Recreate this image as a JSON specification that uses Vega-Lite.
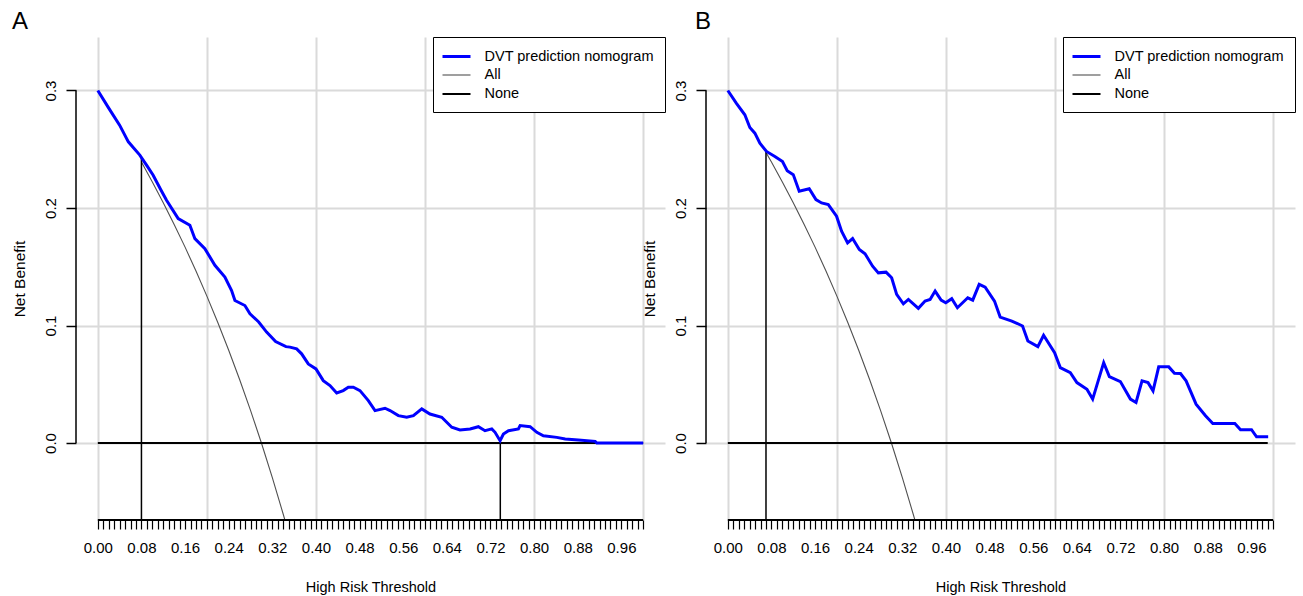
{
  "$schema": "https://vega.github.io/schema/vega-lite/v6.json",
  "background": "white",
  "padding": {"left": 12, "top": 9, "right": 5, "bottom": 2},
  "config": {
    "font": "Liberation Sans",
    "view": {"stroke": null},
    "axis": {"labelFont": "Liberation Sans", "titleFont": "Liberation Sans", "labelColor": "black", "titleColor": "black", "titleFontWeight": "normal", "tickColor": "black", "gridColor": "#dadada", "gridWidth": 2},
    "title": {"font": "Liberation Sans", "fontSize": 24, "fontWeight": "normal", "anchor": "start", "frame": "group", "baseline": "alphabetic", "offset": 3, "color": "black"},
    "legend": {"orient": "top-right", "offset": 0, "symbolType": "M-2,0L2,0", "symbolSize": 196, "symbolOffset": 4, "labelFont": "Liberation Sans", "labelFontSize": 14.5, "labelColor": "black", "labelLimit": 0, "labelOffset": 19.5, "rowPadding": 4, "padding": 11, "strokeColor": "black", "fillColor": "white"}
  },
  "datasets": {
    "curves": [
      {"panel": "A", "series": "DVT prediction nomogram", "t": 0.0, "nb": 0.3},
      {"panel": "A", "series": "DVT prediction nomogram", "t": 0.02, "nb": 0.285},
      {"panel": "A", "series": "DVT prediction nomogram", "t": 0.04, "nb": 0.2705},
      {"panel": "A", "series": "DVT prediction nomogram", "t": 0.056, "nb": 0.2563},
      {"panel": "A", "series": "DVT prediction nomogram", "t": 0.077, "nb": 0.245},
      {"panel": "A", "series": "DVT prediction nomogram", "t": 0.09, "nb": 0.236},
      {"panel": "A", "series": "DVT prediction nomogram", "t": 0.1015, "nb": 0.2279},
      {"panel": "A", "series": "DVT prediction nomogram", "t": 0.115, "nb": 0.216},
      {"panel": "A", "series": "DVT prediction nomogram", "t": 0.126, "nb": 0.2066},
      {"panel": "A", "series": "DVT prediction nomogram", "t": 0.1474, "nb": 0.191},
      {"panel": "A", "series": "DVT prediction nomogram", "t": 0.1688, "nb": 0.1853},
      {"panel": "A", "series": "DVT prediction nomogram", "t": 0.178, "nb": 0.1739},
      {"panel": "A", "series": "DVT prediction nomogram", "t": 0.1963, "nb": 0.1654},
      {"panel": "A", "series": "DVT prediction nomogram", "t": 0.2147, "nb": 0.1512},
      {"panel": "A", "series": "DVT prediction nomogram", "t": 0.233, "nb": 0.1412},
      {"panel": "A", "series": "DVT prediction nomogram", "t": 0.2453, "nb": 0.1298},
      {"panel": "A", "series": "DVT prediction nomogram", "t": 0.2514, "nb": 0.1213},
      {"panel": "A", "series": "DVT prediction nomogram", "t": 0.2697, "nb": 0.117},
      {"panel": "A", "series": "DVT prediction nomogram", "t": 0.279, "nb": 0.11},
      {"panel": "A", "series": "DVT prediction nomogram", "t": 0.295, "nb": 0.103},
      {"panel": "A", "series": "DVT prediction nomogram", "t": 0.3095, "nb": 0.0944},
      {"panel": "A", "series": "DVT prediction nomogram", "t": 0.326, "nb": 0.0864},
      {"panel": "A", "series": "DVT prediction nomogram", "t": 0.345, "nb": 0.082},
      {"panel": "A", "series": "DVT prediction nomogram", "t": 0.3523, "nb": 0.0816},
      {"panel": "A", "series": "DVT prediction nomogram", "t": 0.3646, "nb": 0.0801},
      {"panel": "A", "series": "DVT prediction nomogram", "t": 0.3737, "nb": 0.0759},
      {"panel": "A", "series": "DVT prediction nomogram", "t": 0.3859, "nb": 0.0673},
      {"panel": "A", "series": "DVT prediction nomogram", "t": 0.4, "nb": 0.0631},
      {"panel": "A", "series": "DVT prediction nomogram", "t": 0.4134, "nb": 0.0531},
      {"panel": "A", "series": "DVT prediction nomogram", "t": 0.4257, "nb": 0.0489},
      {"panel": "A", "series": "DVT prediction nomogram", "t": 0.438, "nb": 0.0426},
      {"panel": "A", "series": "DVT prediction nomogram", "t": 0.45, "nb": 0.0446},
      {"panel": "A", "series": "DVT prediction nomogram", "t": 0.4593, "nb": 0.0475},
      {"panel": "A", "series": "DVT prediction nomogram", "t": 0.4685, "nb": 0.0475},
      {"panel": "A", "series": "DVT prediction nomogram", "t": 0.4807, "nb": 0.0446},
      {"panel": "A", "series": "DVT prediction nomogram", "t": 0.496, "nb": 0.0361},
      {"panel": "A", "series": "DVT prediction nomogram", "t": 0.5083, "nb": 0.0276},
      {"panel": "A", "series": "DVT prediction nomogram", "t": 0.5266, "nb": 0.0296},
      {"panel": "A", "series": "DVT prediction nomogram", "t": 0.5358, "nb": 0.0276},
      {"panel": "A", "series": "DVT prediction nomogram", "t": 0.551, "nb": 0.0233},
      {"panel": "A", "series": "DVT prediction nomogram", "t": 0.5664, "nb": 0.0219},
      {"panel": "A", "series": "DVT prediction nomogram", "t": 0.5786, "nb": 0.0233},
      {"panel": "A", "series": "DVT prediction nomogram", "t": 0.594, "nb": 0.029},
      {"panel": "A", "series": "DVT prediction nomogram", "t": 0.609, "nb": 0.0247},
      {"panel": "A", "series": "DVT prediction nomogram", "t": 0.6306, "nb": 0.0219},
      {"panel": "A", "series": "DVT prediction nomogram", "t": 0.649, "nb": 0.0134},
      {"panel": "A", "series": "DVT prediction nomogram", "t": 0.664, "nb": 0.0111},
      {"panel": "A", "series": "DVT prediction nomogram", "t": 0.6826, "nb": 0.0119},
      {"panel": "A", "series": "DVT prediction nomogram", "t": 0.6978, "nb": 0.0139},
      {"panel": "A", "series": "DVT prediction nomogram", "t": 0.71, "nb": 0.0105},
      {"panel": "A", "series": "DVT prediction nomogram", "t": 0.7224, "nb": 0.012},
      {"panel": "A", "series": "DVT prediction nomogram", "t": 0.7284, "nb": 0.0091},
      {"panel": "A", "series": "DVT prediction nomogram", "t": 0.7376, "nb": 0.002},
      {"panel": "A", "series": "DVT prediction nomogram", "t": 0.7437, "nb": 0.0077},
      {"panel": "A", "series": "DVT prediction nomogram", "t": 0.753, "nb": 0.0105},
      {"panel": "A", "series": "DVT prediction nomogram", "t": 0.7712, "nb": 0.012},
      {"panel": "A", "series": "DVT prediction nomogram", "t": 0.7743, "nb": 0.0148},
      {"panel": "A", "series": "DVT prediction nomogram", "t": 0.7927, "nb": 0.0139},
      {"panel": "A", "series": "DVT prediction nomogram", "t": 0.805, "nb": 0.0091},
      {"panel": "A", "series": "DVT prediction nomogram", "t": 0.817, "nb": 0.0062},
      {"panel": "A", "series": "DVT prediction nomogram", "t": 0.8416, "nb": 0.0048},
      {"panel": "A", "series": "DVT prediction nomogram", "t": 0.857, "nb": 0.0034},
      {"panel": "A", "series": "DVT prediction nomogram", "t": 0.881, "nb": 0.0026},
      {"panel": "A", "series": "DVT prediction nomogram", "t": 0.912, "nb": 0.0014},
      {"panel": "A", "series": "DVT prediction nomogram", "t": 0.915, "nb": 0.0},
      {"panel": "A", "series": "DVT prediction nomogram", "t": 1.0, "nb": 0.0},
      {"panel": "A", "series": "All", "t": 0.08, "nb": 0.2391},
      {"panel": "A", "series": "All", "t": 0.1, "nb": 0.2222},
      {"panel": "A", "series": "All", "t": 0.12, "nb": 0.2045},
      {"panel": "A", "series": "All", "t": 0.14, "nb": 0.186},
      {"panel": "A", "series": "All", "t": 0.16, "nb": 0.1667},
      {"panel": "A", "series": "All", "t": 0.18, "nb": 0.1463},
      {"panel": "A", "series": "All", "t": 0.2, "nb": 0.125},
      {"panel": "A", "series": "All", "t": 0.22, "nb": 0.1026},
      {"panel": "A", "series": "All", "t": 0.24, "nb": 0.0789},
      {"panel": "A", "series": "All", "t": 0.26, "nb": 0.0541},
      {"panel": "A", "series": "All", "t": 0.28, "nb": 0.0278},
      {"panel": "A", "series": "All", "t": 0.3, "nb": 0.0},
      {"panel": "A", "series": "All", "t": 0.32, "nb": -0.0294},
      {"panel": "A", "series": "All", "t": 0.34, "nb": -0.0606},
      {"panel": "A", "series": "All", "t": 0.35, "nb": -0.0769},
      {"panel": "A", "series": "None", "t": 0.0, "nb": 0.0},
      {"panel": "A", "series": "None", "t": 1.0, "nb": 0.0},
      {"panel": "B", "series": "DVT prediction nomogram", "t": 0.0, "nb": 0.3},
      {"panel": "B", "series": "DVT prediction nomogram", "t": 0.0158, "nb": 0.2891},
      {"panel": "B", "series": "DVT prediction nomogram", "t": 0.0312, "nb": 0.2793},
      {"panel": "B", "series": "DVT prediction nomogram", "t": 0.0404, "nb": 0.2685},
      {"panel": "B", "series": "DVT prediction nomogram", "t": 0.0496, "nb": 0.2637},
      {"panel": "B", "series": "DVT prediction nomogram", "t": 0.0588, "nb": 0.2552},
      {"panel": "B", "series": "DVT prediction nomogram", "t": 0.0709, "nb": 0.2481},
      {"panel": "B", "series": "DVT prediction nomogram", "t": 0.0863, "nb": 0.2439},
      {"panel": "B", "series": "DVT prediction nomogram", "t": 0.1003, "nb": 0.2396},
      {"panel": "B", "series": "DVT prediction nomogram", "t": 0.1089, "nb": 0.2317},
      {"panel": "B", "series": "DVT prediction nomogram", "t": 0.12, "nb": 0.2284},
      {"panel": "B", "series": "DVT prediction nomogram", "t": 0.1309, "nb": 0.2142},
      {"panel": "B", "series": "DVT prediction nomogram", "t": 0.1493, "nb": 0.2164},
      {"panel": "B", "series": "DVT prediction nomogram", "t": 0.1616, "nb": 0.2071},
      {"panel": "B", "series": "DVT prediction nomogram", "t": 0.1719, "nb": 0.2043},
      {"panel": "B", "series": "DVT prediction nomogram", "t": 0.1842, "nb": 0.2029},
      {"panel": "B", "series": "DVT prediction nomogram", "t": 0.1994, "nb": 0.193},
      {"panel": "B", "series": "DVT prediction nomogram", "t": 0.2086, "nb": 0.1802},
      {"panel": "B", "series": "DVT prediction nomogram", "t": 0.2196, "nb": 0.1703},
      {"panel": "B", "series": "DVT prediction nomogram", "t": 0.2288, "nb": 0.174},
      {"panel": "B", "series": "DVT prediction nomogram", "t": 0.2411, "nb": 0.1647},
      {"panel": "B", "series": "DVT prediction nomogram", "t": 0.2516, "nb": 0.161},
      {"panel": "B", "series": "DVT prediction nomogram", "t": 0.2655, "nb": 0.1505},
      {"panel": "B", "series": "DVT prediction nomogram", "t": 0.276, "nb": 0.1448},
      {"panel": "B", "series": "DVT prediction nomogram", "t": 0.2901, "nb": 0.1454},
      {"panel": "B", "series": "DVT prediction nomogram", "t": 0.3004, "nb": 0.1406},
      {"panel": "B", "series": "DVT prediction nomogram", "t": 0.3096, "nb": 0.1265},
      {"panel": "B", "series": "DVT prediction nomogram", "t": 0.3219, "nb": 0.1185},
      {"panel": "B", "series": "DVT prediction nomogram", "t": 0.3311, "nb": 0.1222},
      {"panel": "B", "series": "DVT prediction nomogram", "t": 0.3494, "nb": 0.1146},
      {"panel": "B", "series": "DVT prediction nomogram", "t": 0.3617, "nb": 0.1208},
      {"panel": "B", "series": "DVT prediction nomogram", "t": 0.3709, "nb": 0.1222},
      {"panel": "B", "series": "DVT prediction nomogram", "t": 0.3801, "nb": 0.1293},
      {"panel": "B", "series": "DVT prediction nomogram", "t": 0.3911, "nb": 0.1216},
      {"panel": "B", "series": "DVT prediction nomogram", "t": 0.3996, "nb": 0.1194},
      {"panel": "B", "series": "DVT prediction nomogram", "t": 0.4106, "nb": 0.1228},
      {"panel": "B", "series": "DVT prediction nomogram", "t": 0.421, "nb": 0.1151},
      {"panel": "B", "series": "DVT prediction nomogram", "t": 0.44, "nb": 0.1236},
      {"panel": "B", "series": "DVT prediction nomogram", "t": 0.4491, "nb": 0.1216},
      {"panel": "B", "series": "DVT prediction nomogram", "t": 0.4609, "nb": 0.135},
      {"panel": "B", "series": "DVT prediction nomogram", "t": 0.4719, "nb": 0.1327},
      {"panel": "B", "series": "DVT prediction nomogram", "t": 0.489, "nb": 0.1208},
      {"panel": "B", "series": "DVT prediction nomogram", "t": 0.4994, "nb": 0.1072},
      {"panel": "B", "series": "DVT prediction nomogram", "t": 0.5208, "nb": 0.1038},
      {"panel": "B", "series": "DVT prediction nomogram", "t": 0.5404, "nb": 0.0996},
      {"panel": "B", "series": "DVT prediction nomogram", "t": 0.5502, "nb": 0.0868},
      {"panel": "B", "series": "DVT prediction nomogram", "t": 0.5685, "nb": 0.082},
      {"panel": "B", "series": "DVT prediction nomogram", "t": 0.579, "nb": 0.0917},
      {"panel": "B", "series": "DVT prediction nomogram", "t": 0.5992, "nb": 0.0769},
      {"panel": "B", "series": "DVT prediction nomogram", "t": 0.6096, "nb": 0.0642},
      {"panel": "B", "series": "DVT prediction nomogram", "t": 0.628, "nb": 0.0599},
      {"panel": "B", "series": "DVT prediction nomogram", "t": 0.6401, "nb": 0.0514},
      {"panel": "B", "series": "DVT prediction nomogram", "t": 0.6585, "nb": 0.0458},
      {"panel": "B", "series": "DVT prediction nomogram", "t": 0.669, "nb": 0.0374},
      {"panel": "B", "series": "DVT prediction nomogram", "t": 0.6892, "nb": 0.0684},
      {"panel": "B", "series": "DVT prediction nomogram", "t": 0.6996, "nb": 0.0565},
      {"panel": "B", "series": "DVT prediction nomogram", "t": 0.7198, "nb": 0.0523},
      {"panel": "B", "series": "DVT prediction nomogram", "t": 0.7382, "nb": 0.0374},
      {"panel": "B", "series": "DVT prediction nomogram", "t": 0.7485, "nb": 0.0345},
      {"panel": "B", "series": "DVT prediction nomogram", "t": 0.7595, "nb": 0.0529},
      {"panel": "B", "series": "DVT prediction nomogram", "t": 0.7705, "nb": 0.0514},
      {"panel": "B", "series": "DVT prediction nomogram", "t": 0.7797, "nb": 0.0444},
      {"panel": "B", "series": "DVT prediction nomogram", "t": 0.7901, "nb": 0.0648},
      {"panel": "B", "series": "DVT prediction nomogram", "t": 0.8085, "nb": 0.0648},
      {"panel": "B", "series": "DVT prediction nomogram", "t": 0.819, "nb": 0.0594},
      {"panel": "B", "series": "DVT prediction nomogram", "t": 0.83, "nb": 0.0591},
      {"panel": "B", "series": "DVT prediction nomogram", "t": 0.8403, "nb": 0.0529},
      {"panel": "B", "series": "DVT prediction nomogram", "t": 0.8586, "nb": 0.0331},
      {"panel": "B", "series": "DVT prediction nomogram", "t": 0.8759, "nb": 0.0232},
      {"panel": "B", "series": "DVT prediction nomogram", "t": 0.8893, "nb": 0.0166},
      {"panel": "B", "series": "DVT prediction nomogram", "t": 0.9297, "nb": 0.0166},
      {"panel": "B", "series": "DVT prediction nomogram", "t": 0.9401, "nb": 0.0113},
      {"panel": "B", "series": "DVT prediction nomogram", "t": 0.9603, "nb": 0.0113},
      {"panel": "B", "series": "DVT prediction nomogram", "t": 0.9695, "nb": 0.0053},
      {"panel": "B", "series": "DVT prediction nomogram", "t": 0.9908, "nb": 0.0053},
      {"panel": "B", "series": "All", "t": 0.07, "nb": 0.2473},
      {"panel": "B", "series": "All", "t": 0.08, "nb": 0.2391},
      {"panel": "B", "series": "All", "t": 0.1, "nb": 0.2222},
      {"panel": "B", "series": "All", "t": 0.12, "nb": 0.2045},
      {"panel": "B", "series": "All", "t": 0.14, "nb": 0.186},
      {"panel": "B", "series": "All", "t": 0.16, "nb": 0.1667},
      {"panel": "B", "series": "All", "t": 0.18, "nb": 0.1463},
      {"panel": "B", "series": "All", "t": 0.2, "nb": 0.125},
      {"panel": "B", "series": "All", "t": 0.22, "nb": 0.1026},
      {"panel": "B", "series": "All", "t": 0.24, "nb": 0.0789},
      {"panel": "B", "series": "All", "t": 0.26, "nb": 0.0541},
      {"panel": "B", "series": "All", "t": 0.28, "nb": 0.0278},
      {"panel": "B", "series": "All", "t": 0.3, "nb": 0.0},
      {"panel": "B", "series": "All", "t": 0.32, "nb": -0.0294},
      {"panel": "B", "series": "All", "t": 0.34, "nb": -0.0606},
      {"panel": "B", "series": "All", "t": 0.35, "nb": -0.0769},
      {"panel": "B", "series": "None", "t": 0.0, "nb": 0.0},
      {"panel": "B", "series": "None", "t": 0.99, "nb": 0.0}
    ],
    "vlines": [
      {"panel": "A", "t": 0.08, "top": 0.2427, "bottom": -0.0655},
      {"panel": "A", "t": 0.738, "top": 0.0, "bottom": -0.0655},
      {"panel": "B", "t": 0.07, "top": 0.248, "bottom": -0.0655}
    ]
  },
  "spacing": -24,
  "resolve": {"scale": {"color": "independent", "strokeWidth": "independent"}, "legend": {"color": "independent", "strokeWidth": "independent"}},
  "hconcat": [
    {
      "title": {"text": "A", "dx": -64},
      "width": 589,
      "height": 483,
      "layer": [
        {
          "data": {"name": "curves"},
          "transform": [{"filter": "datum.panel === 'A' && datum.series === 'All'"}],
          "mark": {"type": "line", "clip": true},
          "encoding": {
            "x": {"field": "t", "type": "quantitative", "scale": {"domain": [-0.04, 1.04], "nice": false, "zero": false},
              "axis": {"values": [0,0.01,0.02,0.03,0.04,0.05,0.06,0.07,0.08,0.09,0.1,0.11,0.12,0.13,0.14,0.15,0.16,0.17,0.18,0.19,0.2,0.21,0.22,0.23,0.24,0.25,0.26,0.27,0.28,0.29,0.3,0.31,0.32,0.33,0.34,0.35,0.36,0.37,0.38,0.39,0.4,0.41,0.42,0.43,0.44,0.45,0.46,0.47,0.48,0.49,0.5,0.51,0.52,0.53,0.54,0.55,0.56,0.57,0.58,0.59,0.6,0.61,0.62,0.63,0.64,0.65,0.66,0.67,0.68,0.69,0.7,0.71,0.72,0.73,0.74,0.75,0.76,0.77,0.78,0.79,0.8,0.81,0.82,0.83,0.84,0.85,0.86,0.87,0.88,0.89,0.9,0.91,0.92,0.93,0.94,0.95,0.96,0.97,0.98,0.99,1],
                "tickCount": 1000,
                "title": "High Risk Threshold", "titleFontSize": 14.5, "titlePadding": 25,
                "labelExpr": "abs(datum.value/0.08 - round(datum.value/0.08)) < 0.001 ? format(datum.value, '.2f') : ''",
                "labelFontSize": 15, "labelPadding": 11, "labelFlush": false, "labelOverlap": false, "labelBound": false,
                "tickSize": 9, "tickWidth": 1.2, "domain": false, "grid": true,
                "gridOpacity": {"condition": {"test": "abs(datum.value*5 - round(datum.value*5)) < 0.001", "value": 1}, "value": 0}}},
            "y": {"field": "nb", "type": "quantitative", "scale": {"domain": [-0.0655, 0.3455], "nice": false, "zero": false},
              "axis": {"values": [0, 0.1, 0.2, 0.3], "format": ".1f", "title": "Net Benefit", "titleFontSize": 15.5, "titlePadding": 16,
                "labelAngle": 270, "labelAlign": "center", "labelBaseline": "bottom", "labelFontSize": 15, "labelPadding": 8,
                "tickSize": 10, "tickWidth": 1.5, "domain": false, "grid": true}},
            "color": {"field": "series", "type": "nominal", "scale": {"domain": ["DVT prediction nomogram", "All", "None"], "range": ["#0000ff", "#505050", "#000000"]}, "legend": {"title": null}},
            "strokeWidth": {"field": "series", "type": "ordinal", "scale": {"type": "ordinal", "domain": ["DVT prediction nomogram", "All", "None"], "range": [3, 1.1, 2]}, "legend": {"title": null}}
          }
        },
        {
          "data": {"name": "curves"},
          "transform": [{"filter": "datum.panel === 'A' && datum.series === 'None'"}],
          "mark": {"type": "line", "clip": true},
          "encoding": {
            "x": {"field": "t", "type": "quantitative", "scale": {"domain": [-0.04, 1.04], "nice": false, "zero": false}},
            "y": {"field": "nb", "type": "quantitative", "scale": {"domain": [-0.0655, 0.3455], "nice": false, "zero": false}},
            "color": {"field": "series", "type": "nominal", "scale": {"domain": ["DVT prediction nomogram", "All", "None"], "range": ["#0000ff", "#505050", "#000000"]}, "legend": null},
            "strokeWidth": {"field": "series", "type": "ordinal", "scale": {"type": "ordinal", "domain": ["DVT prediction nomogram", "All", "None"], "range": [3, 1.1, 2]}, "legend": null}
          }
        },
        {
          "data": {"name": "vlines"},
          "transform": [{"filter": "datum.panel === 'A'"}],
          "mark": {"type": "rule", "color": "black", "strokeWidth": 1.5},
          "encoding": {
            "x": {"field": "t", "type": "quantitative", "scale": {"domain": [-0.04, 1.04], "nice": false, "zero": false}},
            "y": {"field": "top", "type": "quantitative", "scale": {"domain": [-0.0655, 0.3455], "nice": false, "zero": false}},
            "y2": {"field": "bottom"}
          }
        },
        {
          "data": {"values": [{}]},
          "mark": {"type": "rule", "color": "black", "strokeWidth": 1.5},
          "encoding": {
            "x": {"datum": -0.04, "type": "quantitative"},
            "y": {"datum": 0, "type": "quantitative"},
            "y2": {"datum": 0.3}
          }
        },
        {
          "data": {"values": [{}]},
          "mark": {"type": "rule", "color": "black", "strokeWidth": 2},
          "encoding": {
            "x": {"datum": 0, "type": "quantitative"},
            "x2": {"datum": 1},
            "y": {"datum": -0.0655, "type": "quantitative"}
          }
        },
        {
          "data": {"name": "curves"},
          "transform": [{"filter": "datum.panel === 'A' && datum.series === 'DVT prediction nomogram'"}],
          "mark": {"type": "line", "clip": true},
          "encoding": {
            "x": {"field": "t", "type": "quantitative", "scale": {"domain": [-0.04, 1.04], "nice": false, "zero": false}},
            "y": {"field": "nb", "type": "quantitative", "scale": {"domain": [-0.0655, 0.3455], "nice": false, "zero": false}},
            "color": {"field": "series", "type": "nominal", "scale": {"domain": ["DVT prediction nomogram", "All", "None"], "range": ["#0000ff", "#505050", "#000000"]}, "legend": null},
            "strokeWidth": {"field": "series", "type": "ordinal", "scale": {"type": "ordinal", "domain": ["DVT prediction nomogram", "All", "None"], "range": [3, 1.1, 2]}, "legend": null}
          }
        }
      ]
    },
    {
      "title": {"text": "B", "dx": -11},
      "width": 589,
      "height": 483,
      "layer": [
        {
          "data": {"name": "curves"},
          "transform": [{"filter": "datum.panel === 'B' && datum.series === 'All'"}],
          "mark": {"type": "line", "clip": true},
          "encoding": {
            "x": {"field": "t", "type": "quantitative", "scale": {"domain": [-0.04, 1.04], "nice": false, "zero": false},
              "axis": {"values": [0,0.01,0.02,0.03,0.04,0.05,0.06,0.07,0.08,0.09,0.1,0.11,0.12,0.13,0.14,0.15,0.16,0.17,0.18,0.19,0.2,0.21,0.22,0.23,0.24,0.25,0.26,0.27,0.28,0.29,0.3,0.31,0.32,0.33,0.34,0.35,0.36,0.37,0.38,0.39,0.4,0.41,0.42,0.43,0.44,0.45,0.46,0.47,0.48,0.49,0.5,0.51,0.52,0.53,0.54,0.55,0.56,0.57,0.58,0.59,0.6,0.61,0.62,0.63,0.64,0.65,0.66,0.67,0.68,0.69,0.7,0.71,0.72,0.73,0.74,0.75,0.76,0.77,0.78,0.79,0.8,0.81,0.82,0.83,0.84,0.85,0.86,0.87,0.88,0.89,0.9,0.91,0.92,0.93,0.94,0.95,0.96,0.97,0.98,0.99,1],
                "tickCount": 1000,
                "title": "High Risk Threshold", "titleFontSize": 14.5, "titlePadding": 25,
                "labelExpr": "abs(datum.value/0.08 - round(datum.value/0.08)) < 0.001 ? format(datum.value, '.2f') : ''",
                "labelFontSize": 15, "labelPadding": 11, "labelFlush": false, "labelOverlap": false, "labelBound": false,
                "tickSize": 9, "tickWidth": 1.2, "domain": false, "grid": true,
                "gridOpacity": {"condition": {"test": "abs(datum.value*5 - round(datum.value*5)) < 0.001", "value": 1}, "value": 0}}},
            "y": {"field": "nb", "type": "quantitative", "scale": {"domain": [-0.0655, 0.3455], "nice": false, "zero": false},
              "axis": {"values": [0, 0.1, 0.2, 0.3], "format": ".1f", "title": "Net Benefit", "titleFontSize": 15.5, "titlePadding": 16,
                "labelAngle": 270, "labelAlign": "center", "labelBaseline": "bottom", "labelFontSize": 15, "labelPadding": 8,
                "tickSize": 10, "tickWidth": 1.5, "domain": false, "grid": true}},
            "color": {"field": "series", "type": "nominal", "scale": {"domain": ["DVT prediction nomogram", "All", "None"], "range": ["#0000ff", "#505050", "#000000"]}, "legend": {"title": null}},
            "strokeWidth": {"field": "series", "type": "ordinal", "scale": {"type": "ordinal", "domain": ["DVT prediction nomogram", "All", "None"], "range": [3, 1.1, 2]}, "legend": {"title": null}}
          }
        },
        {
          "data": {"name": "curves"},
          "transform": [{"filter": "datum.panel === 'B' && datum.series === 'None'"}],
          "mark": {"type": "line", "clip": true},
          "encoding": {
            "x": {"field": "t", "type": "quantitative", "scale": {"domain": [-0.04, 1.04], "nice": false, "zero": false}},
            "y": {"field": "nb", "type": "quantitative", "scale": {"domain": [-0.0655, 0.3455], "nice": false, "zero": false}},
            "color": {"field": "series", "type": "nominal", "scale": {"domain": ["DVT prediction nomogram", "All", "None"], "range": ["#0000ff", "#505050", "#000000"]}, "legend": null},
            "strokeWidth": {"field": "series", "type": "ordinal", "scale": {"type": "ordinal", "domain": ["DVT prediction nomogram", "All", "None"], "range": [3, 1.1, 2]}, "legend": null}
          }
        },
        {
          "data": {"name": "vlines"},
          "transform": [{"filter": "datum.panel === 'B'"}],
          "mark": {"type": "rule", "color": "black", "strokeWidth": 1.5},
          "encoding": {
            "x": {"field": "t", "type": "quantitative", "scale": {"domain": [-0.04, 1.04], "nice": false, "zero": false}},
            "y": {"field": "top", "type": "quantitative", "scale": {"domain": [-0.0655, 0.3455], "nice": false, "zero": false}},
            "y2": {"field": "bottom"}
          }
        },
        {
          "data": {"values": [{}]},
          "mark": {"type": "rule", "color": "black", "strokeWidth": 1.5},
          "encoding": {
            "x": {"datum": -0.04, "type": "quantitative"},
            "y": {"datum": 0, "type": "quantitative"},
            "y2": {"datum": 0.3}
          }
        },
        {
          "data": {"values": [{}]},
          "mark": {"type": "rule", "color": "black", "strokeWidth": 2},
          "encoding": {
            "x": {"datum": 0, "type": "quantitative"},
            "x2": {"datum": 1},
            "y": {"datum": -0.0655, "type": "quantitative"}
          }
        },
        {
          "data": {"name": "curves"},
          "transform": [{"filter": "datum.panel === 'B' && datum.series === 'DVT prediction nomogram'"}],
          "mark": {"type": "line", "clip": true},
          "encoding": {
            "x": {"field": "t", "type": "quantitative", "scale": {"domain": [-0.04, 1.04], "nice": false, "zero": false}},
            "y": {"field": "nb", "type": "quantitative", "scale": {"domain": [-0.0655, 0.3455], "nice": false, "zero": false}},
            "color": {"field": "series", "type": "nominal", "scale": {"domain": ["DVT prediction nomogram", "All", "None"], "range": ["#0000ff", "#505050", "#000000"]}, "legend": null},
            "strokeWidth": {"field": "series", "type": "ordinal", "scale": {"type": "ordinal", "domain": ["DVT prediction nomogram", "All", "None"], "range": [3, 1.1, 2]}, "legend": null}
          }
        }
      ]
    }
  ]
}
